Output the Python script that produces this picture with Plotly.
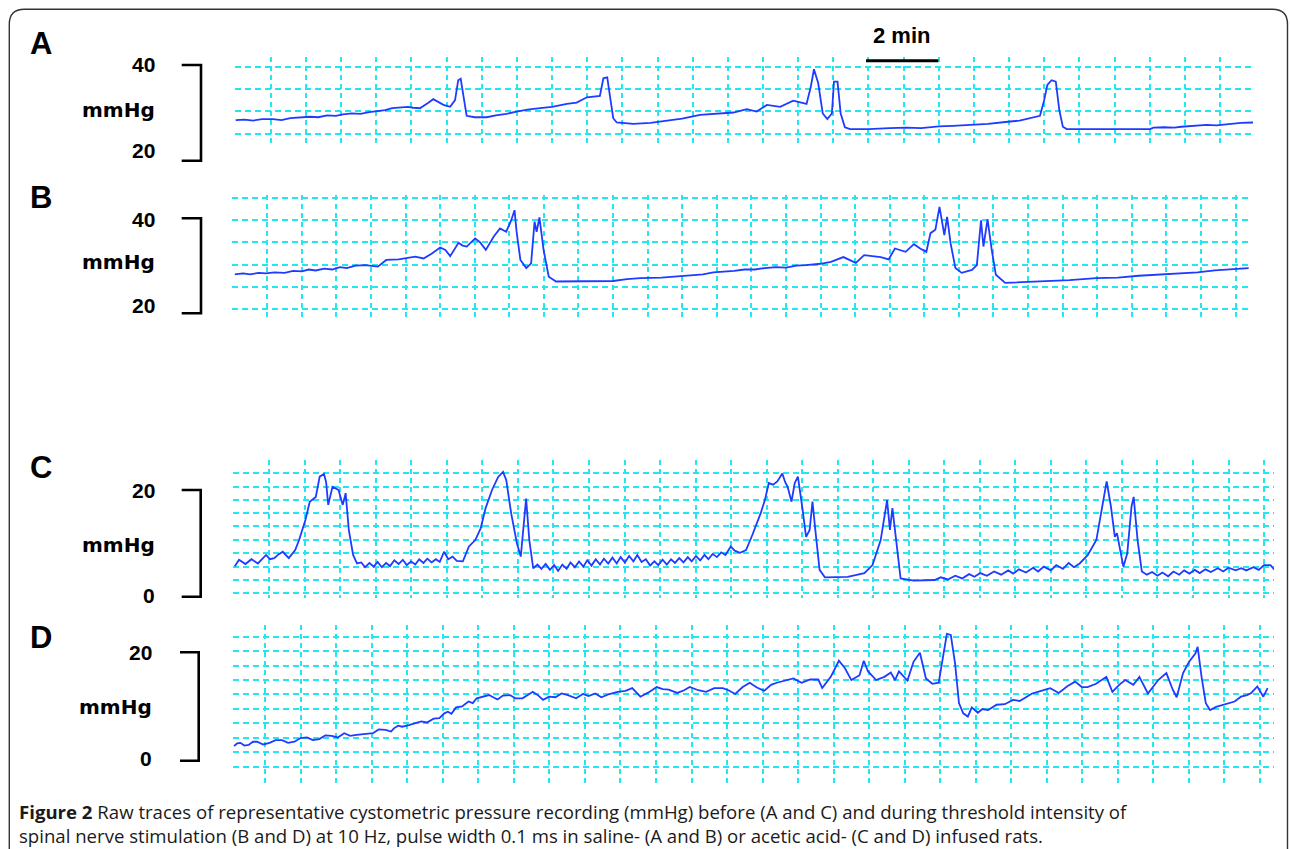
import plotly.graph_objects as go

# ---------------- data (time in min, pressure in mmHg) ----------------
A_t = [0.00, 0.25, 0.50, 0.75, 1.06, 1.30, 1.55, 1.80, 2.11, 2.35, 2.60, 2.85, 3.05, 3.30, 3.55, 3.80,
       4.02, 4.25, 4.45, 4.67, 4.90, 5.05, 5.24, 5.47, 5.62, 5.91, 6.10, 6.24, 6.33, 6.40, 6.48, 6.57,
       6.80, 7.14, 7.40, 7.70, 7.99, 8.30, 8.66, 9.00, 9.42, 9.70, 9.99, 10.36, 10.46, 10.57, 10.65,
       10.74, 10.84, 11.31, 11.80, 12.26, 12.70, 13.21, 13.70, 14.16, 14.54, 14.82, 15.11, 15.49,
       15.86, 16.24, 16.36, 16.45, 16.57, 16.70, 16.83, 16.96, 17.02, 17.12, 17.21, 17.33, 17.48,
       18.00, 18.60, 19.09, 19.50, 20.00, 20.40, 20.98, 21.40, 21.90, 22.30, 22.88, 23.00, 23.09,
       23.21, 23.33, 23.43, 23.53, 23.64, 26.01, 26.11, 26.40, 26.70, 26.90, 27.20, 27.62, 27.90,
       28.30, 28.60, 28.95]
A_p = [28.4, 28.5, 28.3, 28.6, 28.6, 28.4, 28.8, 28.9, 29.1, 29.0, 29.4, 29.3, 29.6, 29.8, 29.7, 30.1,
       30.3, 30.5, 30.9, 31.0, 31.2, 31.0, 30.9, 32.0, 32.8, 31.6, 31.2, 32.6, 36.8, 37.1, 33.3, 29.3,
       29.0, 29.0, 29.4, 29.7, 30.2, 30.6, 30.9, 31.2, 31.8, 32.1, 33.2, 33.5, 37.2, 37.4, 33.3,
       28.8, 27.9, 27.6, 27.8, 28.2, 28.7, 29.5, 29.8, 30.0, 30.7, 30.2, 31.6, 31.2,
       32.5, 31.8, 35.4, 39.1, 36.2, 29.8, 28.6, 29.8, 36.5, 36.5, 29.8, 26.9, 26.5,
       26.5, 26.7, 26.8, 26.7, 27.1, 27.2, 27.4, 27.6, 28.0, 28.3, 29.3, 32.6, 35.8,
       36.8, 36.5, 30.5, 27.0, 26.5, 26.5, 26.8, 26.9, 26.8, 27.0, 27.2, 27.4, 27.3,
       27.6, 27.8, 27.9]

B_t = [0.06, 0.30, 0.50, 0.75, 0.96, 1.20, 1.50, 1.75, 2.00, 2.20, 2.40, 2.65, 2.88, 3.10, 3.30, 3.55,
       3.84, 4.05, 4.20, 4.44, 4.80, 5.28, 5.52, 5.75,
       6.00, 6.15, 6.29, 6.53, 6.65, 6.77, 7.01, 7.15, 7.32, 7.55, 7.73, 7.91, 8.05, 8.15, 8.21, 8.32,
       8.49, 8.63, 8.73, 8.79, 8.87, 8.99, 9.14, 9.35, 10.55, 11.00, 11.40, 11.79, 12.40, 12.99,
       13.30, 13.60, 13.90, 14.19, 14.50, 14.80, 15.10, 15.39, 15.70, 16.00, 16.30, 16.58, 17.00,
       17.30, 17.66, 18.02, 18.26, 18.74, 18.97, 19.15, 19.46, 19.70, 19.88,
       20.06, 20.18, 20.32, 20.44, 20.58, 20.66, 20.76, 20.90, 21.08, 21.38, 21.52, 21.64, 21.71,
       21.83, 21.95, 22.07, 22.34, 23.42, 24.20, 24.97, 25.60, 26.20, 26.80, 27.37, 27.90, 28.40,
       28.90, 29.38]
B_p = [28.3, 28.5, 28.3, 28.6, 28.5, 28.7, 28.6, 29.0, 28.9, 29.3, 29.1, 29.5, 29.3, 29.8, 29.6, 30.1,
       30.2, 30.1, 29.9, 31.3, 31.4, 32.0, 31.6, 32.6,
       33.9, 33.4, 32.1, 34.9, 34.3, 34.1, 35.8, 35.0, 33.4, 36.2, 37.9, 37.2, 39.5, 41.7, 37.2, 31.3,
       29.6, 30.6, 39.3, 37.2, 40.2, 33.4, 27.8, 26.8, 26.8, 26.9, 27.3, 27.5, 27.6, 27.9,
       28.2, 28.3, 28.7, 28.8, 29.0, 29.3, 29.3, 29.6, 29.8, 29.7, 30.1, 30.2, 30.5,
       30.9, 31.9, 30.7, 32.3, 31.9, 31.4, 33.7, 33.0, 34.6, 33.7,
       33.0, 36.9, 37.6, 42.4, 36.5, 40.3, 34.8, 29.6, 28.6, 29.2, 30.2, 39.6, 34.1,
       39.8, 33.4, 28.2, 26.5, 26.8, 27.1, 27.5, 27.6, 28.0, 28.2, 28.5, 28.7, 29.1,
       29.3, 29.6]

C_t = [0.03, 0.15, 0.33, 0.50, 0.68, 0.91, 1.02, 1.14, 1.26, 1.38, 1.55, 1.73, 1.84,
       2.02, 2.14, 2.31, 2.42, 2.54, 2.60, 2.66, 2.78, 2.95, 3.07, 3.15, 3.24, 3.36,
       3.47, 3.59, 3.70, 3.82, 3.94, 4.05, 4.17, 4.29, 4.40, 4.52, 4.64, 4.76, 4.87, 4.99, 5.11,
       5.22, 5.34, 5.45, 5.57, 5.69, 5.80, 5.92, 6.04, 6.16, 6.28, 6.45,
       6.62, 6.80, 6.95, 7.09, 7.27, 7.44, 7.58, 7.67, 7.81, 7.97, 8.08, 8.16, 8.23, 8.32, 8.43,
       8.55, 8.66, 8.78, 8.90, 9.02, 9.13, 9.25, 9.37, 9.48, 9.60, 9.72, 9.84, 9.95, 10.07, 10.19,
       10.31, 10.42, 10.54, 10.66, 10.78, 10.89, 11.01, 11.13, 11.25, 11.36, 11.48, 11.60, 11.72,
       11.84, 11.95, 12.07, 12.19, 12.31, 12.42, 12.54, 12.66, 12.78, 12.89, 13.01, 13.13, 13.25,
       13.36, 13.48, 13.60, 13.72, 13.84, 13.99, 14.10, 14.25, 14.42,
       14.60, 14.83, 14.95, 15.06, 15.18, 15.30, 15.44, 15.52, 15.59, 15.70, 15.79, 15.88, 16.00,
       16.11, 16.21, 16.29, 16.37, 16.49, 16.64,
       16.90, 17.28, 17.50, 17.75, 17.98, 18.21, 18.39, 18.47, 18.54, 18.66, 18.77, 19.14, 19.45, 19.73,
       19.90, 20.10, 20.31, 20.50, 20.70, 20.85, 21.01, 21.20, 21.40, 21.60, 21.80, 21.94, 22.10,
       22.30, 22.50, 22.64, 22.80, 23.00, 23.15, 23.34, 23.50, 23.65, 23.81, 23.95, 24.04, 24.28,
       24.45, 24.57, 24.69, 24.80, 24.86, 25.04, 25.15, 25.27, 25.33, 25.44, 25.56,
       25.70, 25.85, 26.00, 26.14, 26.30, 26.45, 26.61, 26.75, 26.90, 27.05, 27.19, 27.35, 27.50,
       27.70, 27.85, 28.00, 28.20, 28.36, 28.50, 28.70, 28.85, 29.00, 29.18, 29.30]
C_p = [5.7, 6.9, 6.1, 7.0, 6.2, 7.8, 7.0, 7.2, 7.9, 8.4, 7.2, 8.7, 10.6,
       14.4, 17.8, 18.7, 22.5, 23.0, 21.5, 17.2, 20.6, 20.0, 17.2, 19.4, 12.5, 7.8,
       6.2, 6.4, 5.5, 6.3, 5.6, 6.5, 5.5, 6.3, 5.7, 6.8, 6.1, 6.9, 5.9, 6.6, 6.0,
       7.0, 6.3, 7.1, 6.4, 7.0, 6.5, 8.4, 7.0, 7.5, 6.7, 6.6,
       9.4, 10.6, 12.8, 16.6, 20.0, 22.4, 23.4, 21.9, 15.6, 10.0, 7.5, 13.8, 18.4, 10.6, 5.3,
       6.0, 5.2, 6.1, 5.0, 5.9, 4.8, 6.0, 5.2, 6.4, 5.5, 6.6, 5.6, 6.8, 5.8, 7.0,
       6.0, 7.1, 6.2, 7.3, 6.2, 7.4, 6.4, 7.6, 6.6, 7.8, 6.5, 7.0, 5.8,
       6.6, 5.9, 6.9, 6.0, 7.0, 6.3, 7.2, 6.4, 7.4, 6.6, 7.6, 6.8, 7.8,
       7.0, 8.0, 7.4, 8.3, 7.8, 9.4, 8.6, 8.2, 8.7,
       11.6, 15.6, 18.1, 21.3, 21.0, 21.6, 23.1, 21.5, 20.6, 17.8, 21.3, 22.5, 16.9,
       11.2, 12.5, 17.8, 12.5, 5.0, 3.6,
       3.6, 3.7, 4.0, 4.4, 5.9, 10.6, 18.1, 12.5, 16.6, 9.4, 3.4, 3.0, 3.1, 3.1,
       3.6, 3.2, 3.9, 3.4, 4.2, 3.7, 4.4, 3.9, 4.7, 4.1, 4.9, 4.3, 5.1,
       4.5, 5.4, 4.7, 5.6, 4.9, 5.9, 5.2, 6.3, 5.5, 6.2, 7.2, 7.8, 10.6,
       16.9, 21.6, 16.9, 11.2, 11.9, 5.6, 8.1, 16.9, 18.7, 10.6, 4.7,
       4.1, 4.6, 3.9, 4.5, 3.8, 4.7, 4.1, 4.9, 4.3, 5.0, 4.4, 5.1, 4.6,
       5.3, 4.7, 5.4, 4.9, 5.3, 4.9, 5.5, 5.0, 5.9, 5.9, 5.0]

D_t = [0.03, 0.12, 0.21, 0.32, 0.44, 0.56, 0.68, 0.85, 1.03, 1.20, 1.38, 1.55, 1.73, 1.90, 2.08,
       2.25, 2.43, 2.60, 2.78, 2.95, 3.13, 3.30, 3.48, 3.71, 3.94, 4.10, 4.30, 4.45, 4.53, 4.65,
       4.76, 4.95, 5.11, 5.30, 5.46, 5.65, 5.81, 5.95, 6.05, 6.15, 6.28, 6.45, 6.63, 6.75, 6.86,
       7.05, 7.21, 7.35, 7.45, 7.60, 7.80, 7.95, 8.15, 8.30, 8.44, 8.60, 8.73, 8.90, 9.08, 9.25,
       9.43, 9.66, 9.85, 10.01, 10.20, 10.37, 10.60, 10.83, 11.05, 11.24, 11.47, 11.70, 11.93,
       12.10, 12.27, 12.51, 12.70, 12.86, 13.10, 13.32, 13.55, 13.79, 13.95, 14.14, 14.35, 14.55,
       14.75, 14.96, 15.15, 15.31, 15.55, 15.78, 16.01, 16.25, 16.48, 16.59, 16.83, 17.06, 17.23,
       17.41, 17.64, 17.76, 17.88, 18.11, 18.34, 18.52, 18.64, 18.75, 18.99, 19.16, 19.34, 19.51,
       19.69, 19.87, 19.98, 20.10, 20.21, 20.33, 20.44, 20.56, 20.69, 20.80, 20.97, 21.10, 21.26,
       21.50, 21.73, 21.96, 22.15, 22.31, 22.50, 22.66, 22.85, 23.01, 23.25, 23.50, 23.71, 23.90,
       24.06, 24.30, 24.59, 24.76, 24.95, 25.12, 25.35, 25.52, 25.76, 26.05, 26.28, 26.46, 26.57,
       26.75, 26.92, 27.10, 27.16, 27.27, 27.39, 27.51, 27.68, 28.03, 28.20, 28.38, 28.55, 28.67,
       28.84, 29.01, 29.13]
D_p = [2.6, 3.1, 3.2, 2.7, 2.8, 3.4, 3.4, 2.9, 3.2, 3.7, 3.7, 3.2, 3.4, 4.1, 4.2,
       3.7, 3.9, 4.6, 4.5, 4.2, 5.0, 4.5, 4.7, 4.9, 5.0, 5.7, 5.6, 5.3, 5.9, 6.4,
       6.2, 6.5, 6.8, 7.2, 7.0, 7.7, 7.8, 8.7, 9.0, 8.6, 9.8, 10.0, 10.9, 10.6, 11.5,
       11.8, 12.1, 11.6, 11.3, 12.0, 12.1, 11.5, 11.5, 12.1, 12.7, 12.0, 11.2, 11.8, 11.7, 12.4,
       12.1, 11.5, 12.3, 11.9, 12.4, 11.7, 12.3, 12.7, 12.9, 13.4, 11.8, 12.6, 13.6,
       13.2, 13.1, 12.5, 13.0, 13.6, 13.0, 12.7, 13.4, 13.4, 13.0, 12.3, 13.6, 14.4,
       13.5, 12.9, 14.0, 14.4, 14.8, 15.2, 14.4, 15.0, 15.0, 13.4, 15.5, 18.5, 17.1,
       14.9, 15.8, 18.5, 16.5, 14.9, 15.5, 16.3, 14.9, 16.5, 14.8, 18.3, 20.0, 15.2,
       14.2, 14.4, 18.8, 23.5, 23.3, 18.0, 10.6, 8.7, 8.1, 9.8, 8.8, 9.5, 9.3,
       10.3, 10.4, 11.2, 11.0, 11.7, 12.4, 12.7, 13.1, 13.4, 12.5, 13.8, 14.6, 13.6,
       13.6, 14.2, 15.5, 12.7, 14.0, 14.9, 14.0, 15.5, 12.4, 14.9, 16.2, 13.1, 11.7,
       16.2, 18.3, 19.9, 21.1, 15.5, 10.6, 9.3, 9.9, 10.6, 10.9, 11.8, 12.1, 12.5,
       13.7, 11.8, 13.4]

panel_letters = ["A", "B", "C", "D"]
scale_labels = [("40", "20"), ("40", "20"), ("20", "0"), ("20", "0")]
unit_label = "mmHg"
scale_bar_label = "2 min"
caption_line1 = ("<b>Figure 2</b> Raw traces of representative cystometric pressure recording (mmHg) "
                 "before (A and C) and during threshold intensity of")
caption_line2 = ("spinal nerve stimulation (B and D) at 10 Hz, pulse width 0.1 ms in saline- (A and B) "
                 "or acetic acid- (C and D) infused rats.")

# ---------------- layout geometry ----------------
W, H = 1290, 849
def fx(px):
    return px / W
def fy(py):
    return 1 - py / H

GRID = "#25E6F0"
TRACE = "#1F3BFF"
FONT = "Liberation Sans, Arial, sans-serif"
UNIT_FONT = "DejaVu Sans, sans-serif"

panels = [
    dict(xd=(235.0, 1253), yd=(57, 144), xr=(-0.02, 28.94), yr=(23.37, 41.68), tick0=0,
         hgrid=[39.64, 34.95, 30.32, 25.47], t=A_t, p=A_p,
         letter=(41, 43), lab_x=157, lab_y=(65, 110, 151), br=(181.7, 201, 65, 160.7)),
    dict(xd=(232, 1249), yd=(195, 320), xr=(-0.02, 29.39), yr=(18.75, 44.87), tick0=0,
         hgrid=[44.31, 39.64, 34.98, 30.24, 25.58, 20.98], t=B_t, p=B_p,
         letter=(41, 197), lab_x=157, lab_y=(219.3, 261.7, 305), br=(181.7, 201, 218.3, 313.3)),
    dict(xd=(233, 1274), yd=(460, 598), xr=(-0.02, 29.28), yr=(-0.28, 25.63), tick0=0,
         hgrid=[25.50, 23.14, 20.56, 18.12, 15.62, 13.15, 10.61, 8.11, 5.60, 3.10, 0.60], t=C_t, p=C_p,
         letter=(41, 467), lab_x=157, lab_y=(490, 545, 595), br=(181.7, 200.7, 490, 596.7)),
    dict(xd=(233, 1274), yd=(625, 787), xr=(0, 29.31), yr=(-5.03, 25.16), tick0=0.91,
         hgrid=[22.93, 20.32, 17.61, 14.91, 12.21, 9.51, 6.84, 4.19, 1.55, -1.21], t=D_t, p=D_p,
         letter=(41, 637), lab_x=153.5, lab_y=(652.3, 706.7, 758.3), br=(180, 198.7, 652.3, 760.7)),
]

fig = go.Figure()
annotations = []
shapes = []

for i, pn in enumerate(panels):
    k = "" if i == 0 else str(i + 1)
    xa, ya = "xaxis" + k, "yaxis" + k
    fig.add_trace(go.Scatter(x=pn["t"], y=pn["p"], mode="lines",
                             line=dict(color=TRACE, width=1.8),
                             xaxis="x" + k, yaxis="y" + k,
                             hoverinfo="skip", showlegend=False))
    fig.layout[xa] = dict(domain=[fx(pn["xd"][0]), fx(pn["xd"][1])], range=list(pn["xr"]),
                          anchor="y" + k, showgrid=True, gridcolor=GRID, gridwidth=1.5,
                          griddash="5px,4px", tick0=pn["tick0"], dtick=1,
                          showticklabels=False, zeroline=False, showline=False, ticks="")
    fig.layout[ya] = dict(domain=[fy(pn["yd"][1]), fy(pn["yd"][0])], range=list(pn["yr"]),
                          anchor="x" + k, showgrid=True, gridcolor=GRID, gridwidth=1.5,
                          griddash="6px,4px", tickmode="array", tickvals=pn["hgrid"],
                          showticklabels=False, zeroline=False, showline=False, ticks="")
    annotations.append(dict(text="<b>%s</b>" % panel_letters[i], x=fx(pn["letter"][0]),
                            y=fy(pn["letter"][1]), xref="paper", yref="paper",
                            xanchor="center", yanchor="middle", showarrow=False,
                            font=dict(family=FONT, size=31, color="black")))
    top, bot = scale_labels[i]
    for txt, yy, fam, sz in zip([top, unit_label, bot], pn["lab_y"],
                                [FONT, UNIT_FONT, FONT], [21, 20, 21]):
        annotations.append(dict(text="<b>%s</b>" % txt, x=fx(pn["lab_x"]), y=fy(yy),
                                xref="paper", yref="paper", xanchor="right", yanchor="middle",
                                showarrow=False, font=dict(family=fam, size=sz, color="black")))
    x0, x1, y0, y1 = pn["br"]
    shapes.append(dict(type="path", xref="paper", yref="paper",
                       path="M %f,%f L %f,%f L %f,%f L %f,%f" % (
                           fx(x0), fy(y0), fx(x1), fy(y0), fx(x1), fy(y1), fx(x0), fy(y1)),
                       line=dict(color="black", width=2.6)))

# scale bar
shapes.append(dict(type="line", xref="paper", yref="paper", x0=fx(866), x1=fx(938.3),
                   y0=fy(60.7), y1=fy(60.7), line=dict(color="black", width=3)))
annotations.append(dict(text="<b>%s</b>" % scale_bar_label, x=fx(901), y=fy(36),
                        xref="paper", yref="paper", xanchor="center", yanchor="middle",
                        showarrow=False, font=dict(family=FONT, size=22, color="black")))

# caption (two lines in one text block)
annotations.append(dict(text=caption_line1 + "<br>" + caption_line2, x=fx(18), y=fy(823.5),
                        xref="paper", yref="paper", xanchor="left", yanchor="middle",
                        align="left", showarrow=False, borderpad=0,
                        font=dict(family="Open Sans, sans-serif", size=18.6, color="#1a1a1a")))

# rounded frame
xl, xr_, yt = fx(9.3), fx(1287.5), fy(9.3)
rx, ry = 15 / W, 15 / H
shapes.append(dict(type="path", xref="paper", yref="paper",
                   path="M %f,%f L %f,%f Q %f,%f %f,%f L %f,%f Q %f,%f %f,%f L %f,%f" % (
                       xl, -0.05, xl, yt - ry, xl, yt, xl + rx, yt, xr_ - rx, yt,
                       xr_, yt, xr_, yt - ry, xr_, -0.05),
                   line=dict(color="#333333", width=1.4)))

fig.update_layout(width=W, height=H, margin=dict(l=0, r=0, t=0, b=0),
                  paper_bgcolor="white", plot_bgcolor="white",
                  annotations=annotations, shapes=shapes, showlegend=False)

fig.write_html("out.html", config={"displayModeBar": False},
               post_script="document.body.style.margin='0';document.body.style.overflow='hidden';")
